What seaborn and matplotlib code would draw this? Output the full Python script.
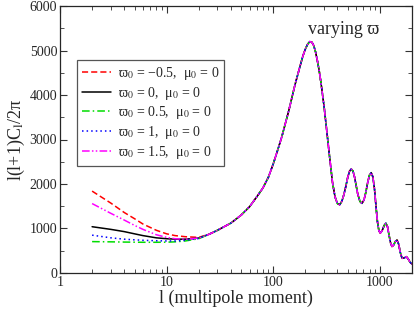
import numpy as np
import pandas as pd
import matplotlib
matplotlib.use("Agg")
import matplotlib.pyplot as plt
import seaborn as sns
from matplotlib.ticker import FixedLocator, LogLocator, MultipleLocator, NullFormatter

# low multipoles, where the models differ
l_low = [2, 3, 4, 5, 6, 8, 10, 12, 15, 20, 25]
cl_m05 = [1840, 1570, 1360, 1220, 1100, 960, 880, 840, 815, 800, 870]
cl_0 = [1040, 980, 930, 880, 840, 790, 770, 760, 760, 785, 870]
cl_05 = [705, 700, 695, 692, 690, 690, 692, 700, 720, 770, 870]
cl_1 = [850, 790, 760, 745, 735, 725, 720, 720, 735, 775, 870]
cl_15 = [1560, 1340, 1190, 1070, 980, 860, 800, 770, 760, 785, 870]

# higher multipoles, common to all models
l_high = [30, 40, 50, 60, 70, 80, 90, 100, 110, 120, 140, 160, 180, 190, 200,
          210, 220, 230, 240, 250, 260, 270, 280, 300, 320, 340, 360, 380, 400,
          420, 440, 460, 480, 500, 520, 540, 560, 580, 600, 620, 650, 680, 710,
          740, 770, 800, 830, 860, 890, 920, 950, 980, 1010, 1050, 1100, 1140,
          1180, 1220, 1260, 1300, 1340, 1400, 1450, 1500, 1560, 1616, 1700,
          1775, 1850, 1925, 2000]
cl_high = [960, 1120, 1300, 1490, 1710, 1910, 2150, 2450, 2760, 3050, 3650,
           4230, 4680, 4880, 5030, 5140, 5200, 5190, 5110, 4960, 4760, 4540,
           4290, 3740, 3130, 2550, 2030, 1710, 1560, 1535, 1610, 1760, 1950,
           2150, 2290, 2335, 2290, 2150, 1960, 1780, 1610, 1565, 1640, 1820,
           2040, 2200, 2255, 2160, 1900, 1500, 1150, 950, 895, 950, 1070, 1118,
           1040, 850, 680, 595, 620, 710, 740, 650, 450, 330, 340, 367, 310,
           240, 200]

labels = ["ϖ$_0$ = −0.5,  μ$_0$ = 0", "ϖ$_0$ = 0,  μ$_0$ = 0",
          "ϖ$_0$ = 0.5,  μ$_0$ = 0", "ϖ$_0$ = 1,  μ$_0$ = 0",
          "ϖ$_0$ = 1.5,  μ$_0$ = 0"]
series = [cl_m05, cl_0, cl_05, cl_1, cl_15]
colors = ["#ff0000", "#000000", "#00dd00", "#0000ff", "#ff00ff"]
styles = [(0, (4, 2)), "-", (0, (5, 2, 1, 2)), (0, (1, 2)), (0, (5, 1.5, 1, 1.5, 1, 1.5))]

sns.set_style("ticks")
plt.rcParams["font.family"] = ["Liberation Serif", "DejaVu Serif"]
plt.rcParams["mathtext.fontset"] = "stix"

fig = plt.figure(figsize=(4.15, 3.1), dpi=100)
ax = fig.add_axes([0.1446, 0.1194, 0.848, 0.8612])

for lab, vals, c, ls in zip(labels, series, colors, styles):
    df = pd.DataFrame({"l": l_low + l_high, "cl": vals + cl_high})
    sns.lineplot(data=df, x="l", y="cl", ax=ax, color=c, linestyle=ls,
                 linewidth=1.1, label=lab, sort=True)

ax.set_xscale("log")
ax.set_xlim(1, 2000)
ax.set_ylim(0, 6000)
ax.xaxis.set_major_locator(FixedLocator([1, 10, 100, 1000]))
ax.set_xticklabels(["1", "10", "100", "1000"])
ax.xaxis.set_minor_locator(LogLocator(base=10, subs=np.arange(2, 10)))
ax.xaxis.set_minor_formatter(NullFormatter())
ax.yaxis.set_major_locator(MultipleLocator(1000))
ax.yaxis.set_minor_locator(MultipleLocator(500))
ax.tick_params(which="both", direction="in", top=True, right=True,
               labelsize=10, pad=2, color="#333333")
ax.tick_params(which="major", length=5)
ax.tick_params(which="minor", length=3)
for s in ax.spines.values():
    s.set_linewidth(0.9)

ax.set_xlabel("l (multipole moment)", fontsize=13, labelpad=1)
ax.set_ylabel("l(l+1)C$_{\\rm l}$/2π", fontsize=13, labelpad=2)
ax.text(460, 5480, "varying ϖ", fontsize=13, ha="center", va="center")

leg = ax.legend(loc="upper left", bbox_to_anchor=(0.048, 0.798),
                borderaxespad=0, fancybox=False, edgecolor="#555555",
                fontsize=10, handlelength=2.1, handletextpad=0.5,
                labelspacing=0.2, borderpad=0.35, framealpha=1)
leg.get_frame().set_linewidth(0.9)

fig.savefig("out.png", dpi=100)
